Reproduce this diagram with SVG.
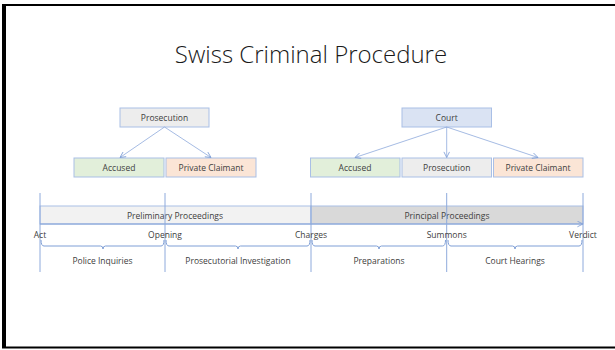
<svg xmlns="http://www.w3.org/2000/svg" width="615" height="350" viewBox="0 0 615 350">
  <defs>
    <marker id="head" viewBox="0 0 10 10" refX="9" refY="5" markerWidth="7" markerHeight="7" markerUnits="userSpaceOnUse" orient="auto">
      <path d="M1,1 L9,5 L1,9" fill="none" stroke="#7f9fd6" stroke-width="1.2"/>
    </marker>
    <style>
      .t { font-family: "Open Sans", "Liberation Sans", sans-serif; fill: #404040; font-size: 8.5px; text-anchor: middle; }
      .title { font-family: "Open Sans", "Liberation Sans", sans-serif; fill: #1a1a1a; font-size: 24px; font-weight: 300; text-anchor: middle; }
      .box { stroke: #a9bfe6; stroke-width: 1; }
      .edge { stroke: #8eaadc; stroke-width: 0.8; fill: none; }
      .tick { stroke: #8eaadc; stroke-width: 1; fill: none; }
      .brace { stroke: #7f9fd6; stroke-width: 1; fill: none; }
    </style>
  </defs>

  <rect width="615" height="350" fill="#ffffff"/>
  <!-- slide frame -->
  <line x1="4" y1="5" x2="4" y2="348" stroke="#000" stroke-width="4"/>
  <line x1="2" y1="5" x2="615" y2="5" stroke="#000" stroke-width="2"/>
  <line x1="2" y1="347.5" x2="615" y2="347.5" stroke="#000" stroke-width="2"/>

  <text class="title" x="311" y="63">Swiss Criminal Procedure</text>

  <!-- preliminary stage parties -->
  <g id="prosecution-lead">
    <rect class="box" x="120" y="108" width="89" height="19" fill="#ededed"/>
    <text class="t" x="164.5" y="120.5">Prosecution</text>
  </g>
  <g id="accused-1">
    <rect class="box" x="74" y="158" width="90" height="19" fill="#e2efda"/>
    <text class="t" x="119" y="170.5">Accused</text>
  </g>
  <g id="claimant-1">
    <rect class="box" x="166" y="158" width="90" height="19" fill="#fbe5d6"/>
    <text class="t" x="211" y="170.5">Private Claimant</text>
  </g>

  <!-- principal stage parties -->
  <g id="court">
    <rect class="box" x="402" y="108" width="89.5" height="19" fill="#dae3f3"/>
    <text class="t" x="446.7" y="120.5">Court</text>
  </g>
  <g id="accused-2">
    <rect class="box" x="310.5" y="158" width="89.5" height="19" fill="#e2efda"/>
    <text class="t" x="355" y="170.5">Accused</text>
  </g>
  <g id="prosecution-2">
    <rect class="box" x="402" y="158" width="89.5" height="19" fill="#ededed"/>
    <text class="t" x="446.7" y="170.5">Prosecution</text>
  </g>
  <g id="claimant-2">
    <rect class="box" x="493.5" y="158" width="89.5" height="19" fill="#fbe5d6"/>
    <text class="t" x="538" y="170.5">Private Claimant</text>
  </g>

  <g id="connectors">
    <line class="edge" x1="164.5" y1="127" x2="120" y2="157.5" marker-end="url(#head)"/>
    <line class="edge" x1="164.5" y1="127" x2="211" y2="157.5" marker-end="url(#head)"/>
    <line class="edge" x1="446.7" y1="127" x2="355" y2="157.5" marker-end="url(#head)"/>
    <line class="edge" x1="446.7" y1="127" x2="446.7" y2="157.5" marker-end="url(#head)"/>
    <line class="edge" x1="446.7" y1="127" x2="538" y2="157.5" marker-end="url(#head)"/>
  </g>

  <!-- timeline -->
  <g id="timeline">
    <rect x="40" y="206" width="271" height="18" fill="#f2f2f2" stroke="#a9bfe6" stroke-width="1"/>
    <rect x="311" y="206" width="272" height="18" fill="#d9d9d9" stroke="#a9bfe6" stroke-width="1"/>
    <line x1="40" y1="224" x2="583" y2="224" stroke="#7f9fd6" stroke-width="1" marker-end="url(#head)"/>
    <text class="t" x="175" y="219">Preliminary Proceedings</text>
    <text class="t" x="447" y="219">Principal Proceedings</text>

    <line class="tick" x1="40" y1="193" x2="40" y2="272"/>
    <line class="tick" x1="165" y1="193" x2="165" y2="272"/>
    <line class="tick" x1="311" y1="193" x2="311" y2="272"/>
    <line class="tick" x1="446.7" y1="193" x2="446.7" y2="272"/>
    <line class="tick" x1="583" y1="193" x2="583" y2="272"/>

    <text class="t" x="40" y="238">Act</text>
    <text class="t" x="165" y="238">Opening</text>
    <text class="t" x="311" y="238">Charges</text>
    <text class="t" x="446.7" y="238">Summons</text>
    <text class="t" x="583" y="238">Verdict</text>

    <path class="brace" d="M41,240 Q41,246 44,246 L100.5,246 Q103,246 103,249 Q103,246 105.5,246 L161,246 Q164,246 164,240"/>
    <path class="brace" d="M166,240 Q166,246 169,246 L235.5,246 Q238,246 238,249 Q238,246 240.5,246 L307,246 Q310,246 310,240"/>
    <path class="brace" d="M312,240 Q312,246 315,246 L376.5,246 Q379,246 379,249 Q379,246 381.5,246 L442.5,246 Q445.5,246 445.5,240"/>
    <path class="brace" d="M448,240 Q448,246 451,246 L512.5,246 Q515,246 515,249 Q515,246 517.5,246 L579,246 Q582,246 582,240"/>

    <text class="t" x="102.5" y="264">Police Inquiries</text>
    <text class="t" x="238" y="264">Prosecutorial Investigation</text>
    <text class="t" x="379" y="264">Preparations</text>
    <text class="t" x="515" y="264">Court Hearings</text>
  </g>
</svg>
